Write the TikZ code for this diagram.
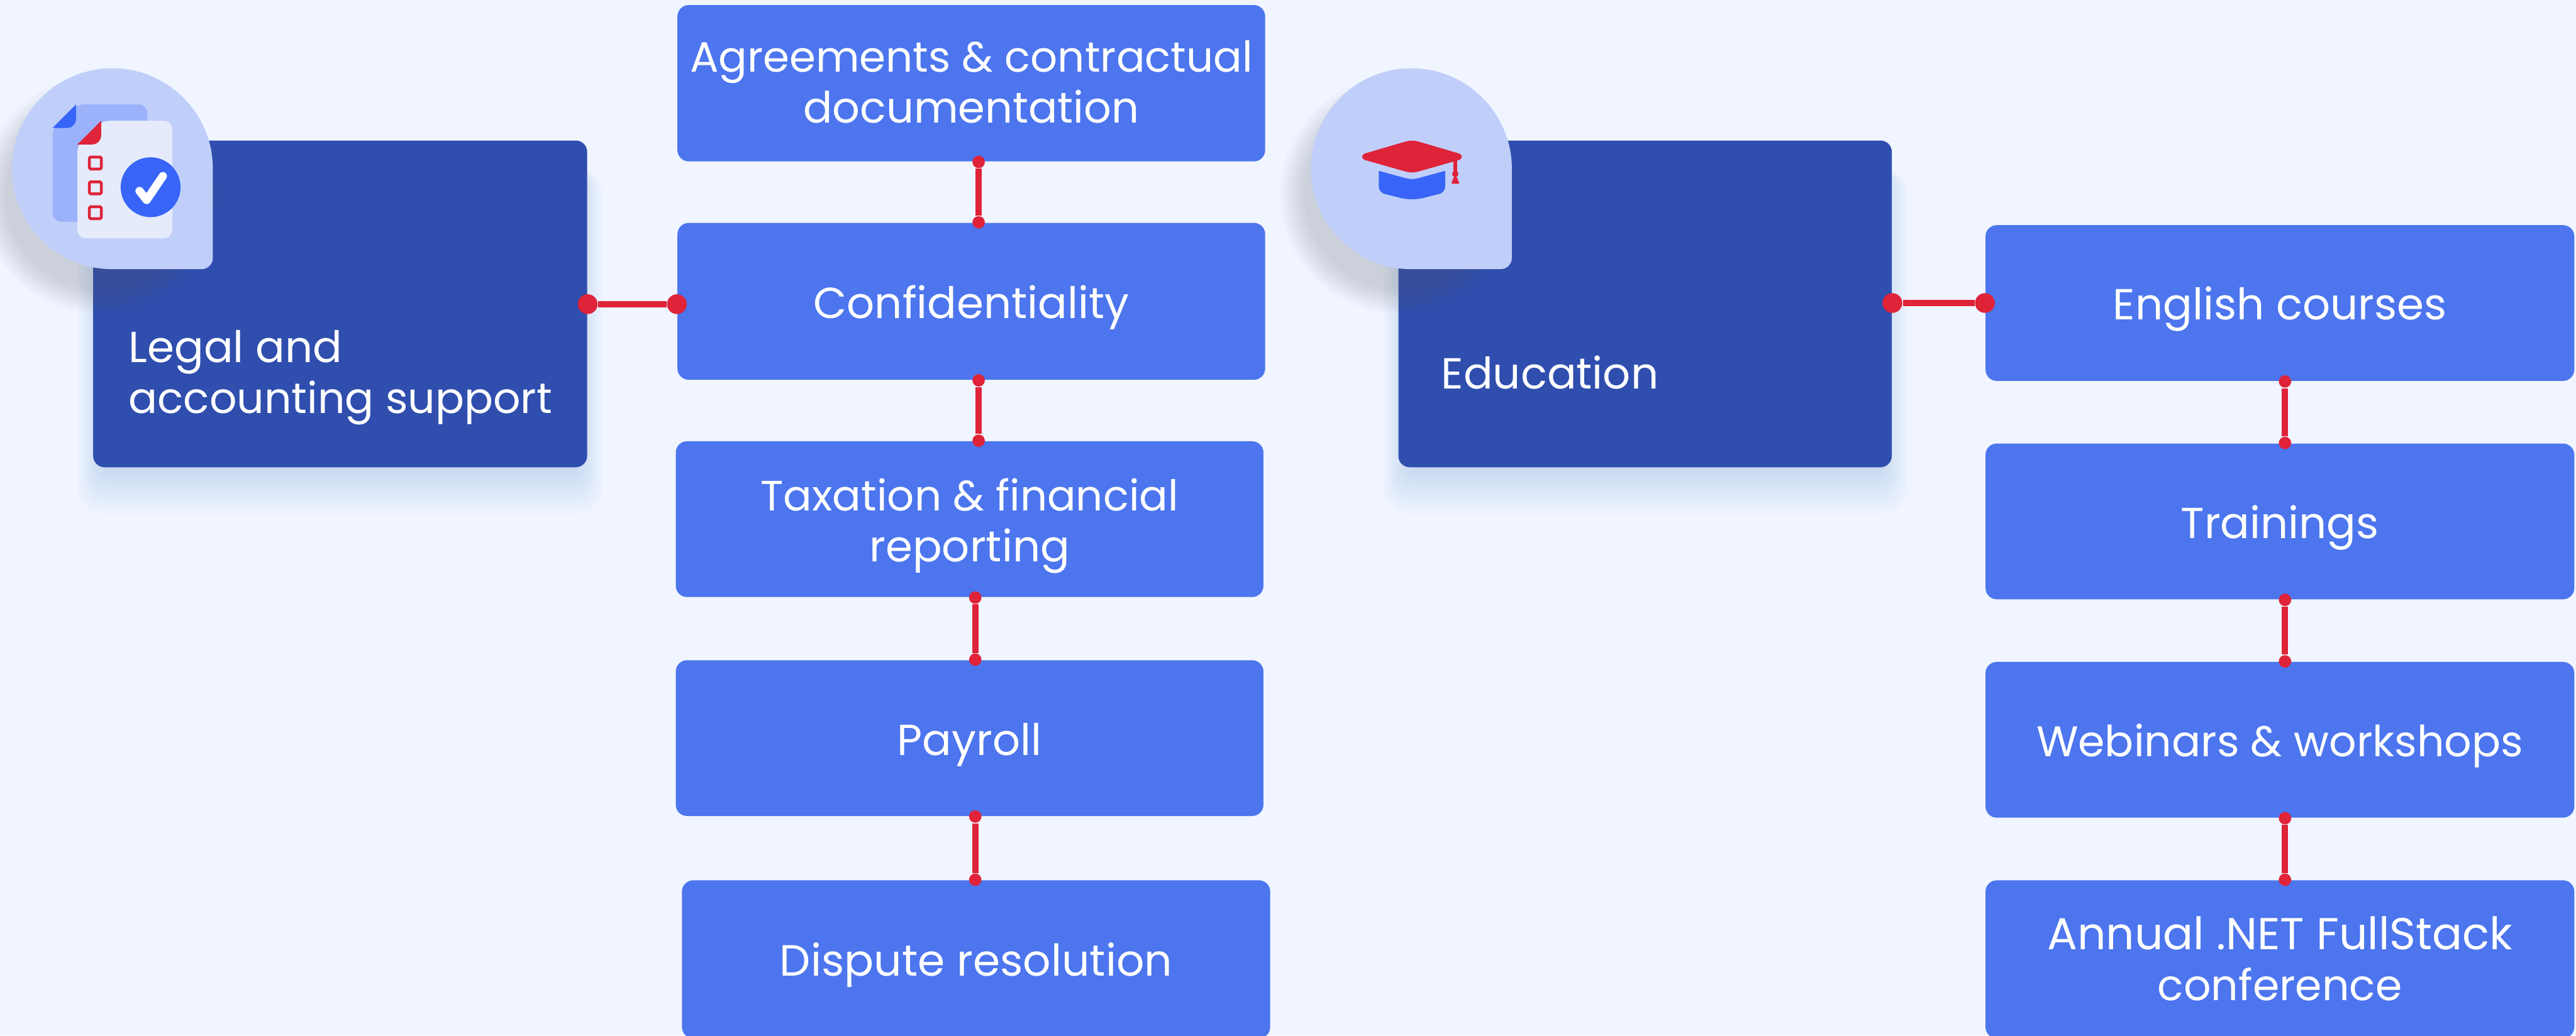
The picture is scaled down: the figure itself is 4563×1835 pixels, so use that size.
\documentclass[tikz,border=0pt]{standalone}
\usepackage{fontspec}
\setmainfont{Poppins}
\usetikzlibrary{calc}
\definecolor{bgc}{HTML}{F0F5FF}
\definecolor{darkc}{HTML}{2F4EAE}
\definecolor{boxc}{HTML}{4C75EE}
\definecolor{dropc}{HTML}{C0CFFA}
\definecolor{backc}{HTML}{9BB2FB}
\definecolor{pagec}{HTML}{E5EBFA}
\definecolor{bluec}{HTML}{3865F8}
\definecolor{redc}{HTML}{DF2339}
\definecolor{shblue}{HTML}{6F8FF0}
\definecolor{shgrey}{HTML}{5A6068}
% one text line: font size, raise, text
\newcommand{\tl}[3]{\rule[-2pt]{0pt}{16pt}\fontsize{#1}{18.1}\selectfont\smash{\raisebox{#2}{#3}}}
\tikzset{
  x=0.2pt,y=0.2pt,
  lbox/.style={fill=boxc,rounded corners=4pt,inner sep=0pt,text=white,align=center,font=\fontsize{15.4}{18.1}\selectfont},
  dbox/.style={fill=darkc,rounded corners=4pt,inner sep=0pt},
  dlabel/.style={inner sep=0pt,text=white,align=left,anchor=west,font=\fontsize{15.4}{18.1}\selectfont},
  bigdot/.style={circle,fill=redc,inner sep=0pt,minimum size=7pt},
  smalldot/.style={circle,fill=redc,inner sep=0pt,minimum size=4.4pt},
  hlink/.style={draw=redc,line width=2.3pt},
  vlink/.style={draw=redc,line width=2.2pt},
}
% width height of a box given in reference pixels
\newcommand{\boxat}[7]{\node[#1,minimum width={(#5-#3)*0.2pt},minimum height={(#6-#4)*0.2pt}] (#2) at ({(#3+#5)/2},{-(#4+#6)/2}) {#7};}
\newcommand{\droppath}[1]{%
  (#1+178,-299) -- (#1+178,-457) arc[start angle=0,end angle=-90,radius=20] -- (#1,-477) arc[start angle=270,end angle=0,radius=178] -- cycle}
\begin{document}
\begin{tikzpicture}
\useasboundingbox (0,0) rectangle (4563,-1835);
\fill[bgc] (0,0) rectangle (4563,-1835);

% soft shadows of the dark boxes
\foreach \xa/\xb in {165/1040,2477/3351}{
  \foreach \g in {72,66,...,0}{
    \fill[shblue,opacity=0.021,rounded corners={(20+\g/3)*0.2pt}]
      ({\xa+12-\g*0.55},-300) rectangle ({\xb-12+\g*0.55},{-838-\g});
  }
}

\boxat{dbox}{legal}{165}{249}{1040}{828}{}
\boxat{dbox}{edu}{2477}{249}{3351}{828}{}

% shadows of the drops
\foreach \cx in {199,2500}{
  \foreach \g in {44,38,...,2}{
    \fill[shgrey,opacity=0.03] (\cx-22,-345) circle[radius=166+\g];
  }
}
\fill[dropc] \droppath{199};
\fill[dropc] \droppath{2500};

% document icon
\begin{scope}[shift={(0,-90)},x=0.0667pt,y=0.0667pt]
  \fill[backc,rounded corners=3pt] (404,-285) -- (783,-285) -- (783,-908) -- (279,-908) -- (279,-410) -- cycle;
  \fill[bluec] (404,-285) -- (404,-362) arc[start angle=0,end angle=-90,radius=48] -- (279,-410) -- cycle;
  \fill[pagec,rounded corners=3pt] (537,-372) -- (915,-372) -- (915,-996) -- (411,-996) -- (411,-498) -- cycle;
  \fill[redc] (537,-372) -- (537,-450) arc[start angle=0,end angle=-90,radius=48] -- (411,-498) -- cycle;
  \foreach \yy in {558,690,822}{
    \draw[redc,line width=1pt,rounded corners=0.4pt] (475,-\yy-7) rectangle (538,-\yy-70);
  }
  \fill[bluec] (800,-725) circle[radius=159];
  \draw[white,line width=2.9pt,line cap=round,line join=round] (741,-745) -- (779,-793) -- (865,-666);
\end{scope}

% graduation cap icon
\begin{scope}[shift={(2300,-90)},x=0.0667pt,y=0.0667pt]
  \fill[bluec] (427,-638) -- (570,-677) .. controls (590,-683) and (616,-683) .. (636,-677) -- (779,-638) -- (779,-722) .. controls (779,-742) and (765,-755) .. (750,-760) -- (660,-783) .. controls (620,-791) and (586,-791) .. (546,-783) -- (456,-760) .. controls (441,-755) and (427,-742) .. (427,-722) -- cycle;
  \fill[redc] (352,-546) -- (570,-482) .. controls (590,-476) and (616,-476) .. (636,-482) -- (854,-546) .. controls (872,-552) and (872,-574) .. (854,-580) -- (636,-642) .. controls (616,-648) and (590,-648) .. (570,-642) -- (352,-580) .. controls (334,-574) and (334,-552) .. (352,-546) -- cycle;
  \fill[redc] (824,-575) rectangle (843,-650);
  \fill[redc] (833,-654) circle[radius=17];
  \fill[redc,rounded corners=0.5pt] (826,-668) -- (840,-668) -- (856,-707) -- (811,-707) -- cycle;
\end{scope}

% left column
\boxat{lbox}{agr}{1200}{9}{2241}{286}{\tl{15.05}{0.9pt}{Agreements \& contractual}\\\tl{15.3}{0.9pt}{documentation}}
\boxat{lbox}{conf}{1200}{395}{2241}{673}{\tl{15.4}{0pt}{Confidentiality}}
\boxat{lbox}{tax}{1197}{782}{2238}{1058}{\tl{15.05}{0pt}{Taxation \& financial}\\\tl{15.4}{0pt}{reporting}}
\boxat{lbox}{pay}{1197}{1170}{2238}{1446}{\tl{15.4}{0pt}{Payroll}}
\boxat{lbox}{disp}{1208}{1560}{2250}{1840}{\tl{15.5}{0pt}{Dispute resolution}}

% right column
\boxat{lbox}{eng}{3517}{399}{4560}{675}{\tl{15.4}{0pt}{English courses}}
\boxat{lbox}{train}{3517}{786}{4560}{1062}{\tl{15.4}{0pt}{Trainings}}
\boxat{lbox}{web}{3517}{1173}{4560}{1449}{\tl{15.2}{0pt}{Webinars \& workshops}}
\boxat{lbox}{net}{3517}{1560}{4560}{1840}{\tl{15.85}{0.4pt}{Annual .NET FullStack}\\\tl{15.2}{0.4pt}{conference}}

% labels of the dark boxes
\node[dlabel] (legaltxt) at (227,-657) {\tl{15.4}{0pt}{Legal and}\\\tl{15.16}{0pt}{accounting support}};
\node[dlabel] (edutxt) at (2552,-659) {\tl{15.4}{0pt}{Education}};

% connectors
\node[bigdot] (l1) at ($(legal.east |- conf.west)+(0,-5)$) {};
\node[bigdot] (l2) at ($(conf.west)+(0,-5)$) {};
\draw[hlink] (l1) -- (l2);
\node[bigdot] (r1) at (edu.east |- eng.west) {};
\node[bigdot] (r2) at (eng.west) {};
\draw[hlink] (r1) -- (r2);

\foreach \up/\dn/\off in {agr/conf/13,conf/tax/13,tax/pay/10,pay/disp/10,eng/train/9,train/web/9,web/net/9}{
  \node[smalldot] (\up top) at ($(\up.south)+(\off,0)$) {};
  \node[smalldot] (\dn bot) at (\up top |- \dn.north) {};
  \draw[vlink] (\up top) -- (\dn bot);
}
\end{tikzpicture}
\end{document}
